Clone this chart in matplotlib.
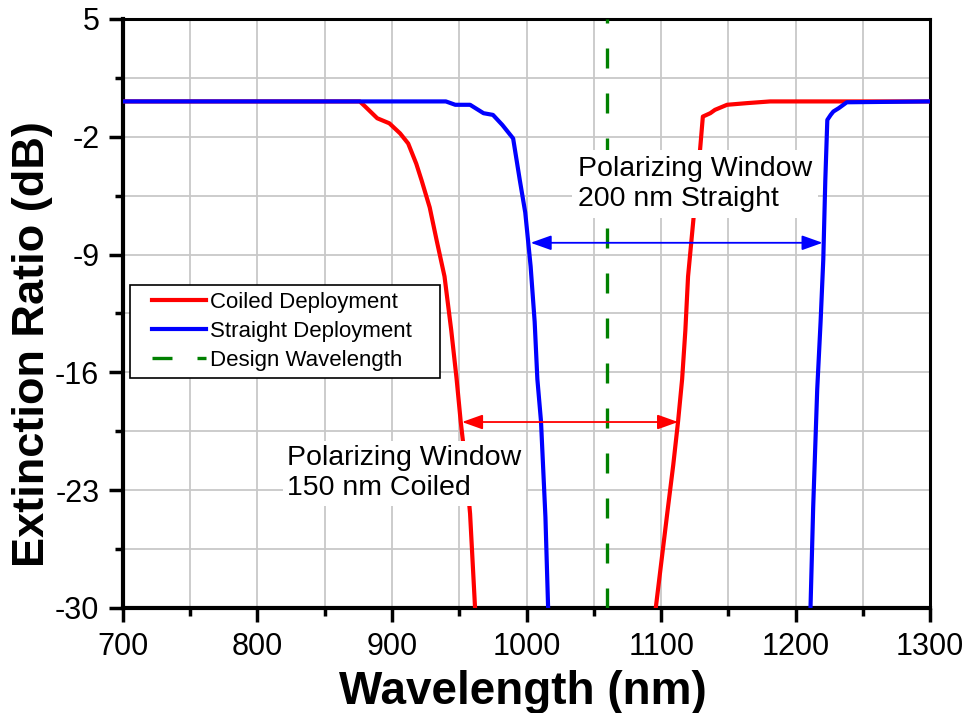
import matplotlib
matplotlib.use('Agg')
import matplotlib.pyplot as plt
from matplotlib.ticker import MultipleLocator, FixedLocator
from matplotlib.legend_handler import HandlerLine2D

plt.rcParams['font.family'] = ['Liberation Sans', 'DejaVu Sans']
plt.rcParams['axes.unicode_minus'] = False

# Coiled deployment (red)
coiled_wl = [700, 876, 880, 889, 898, 906, 912, 918, 922, 928, 933, 939, 944, 948,
             951, 955, 958, 961.7, 964,
             1094, 1096, 1104.5, 1109, 1112.6, 1115.6, 1118, 1120, 1124, 1127, 1129,
             1131, 1136.5, 1140, 1149, 1164, 1181, 1300]
coiled_er = [0.1, 0.1, -0.2, -0.9, -1.2, -1.8, -2.4, -3.6, -4.6, -6.2, -8.1, -10.3, -13.5, -16.4,
             -18.9, -21.7, -24.4, -30, -33,
             -33, -30, -24.4, -21.5, -18.9, -16.4, -13.5, -10.3, -6.9, -4.5, -2.7,
             -0.8, -0.6, -0.4, -0.1, 0.0, 0.1, 0.1]

# Straight deployment (blue)
straight_wl = [700, 940, 947, 958, 968, 975, 982, 990, 995, 999, 1003, 1006, 1008, 1010.7,
               1012.5, 1014, 1016, 1018,
               1209, 1211, 1213, 1216, 1218.5, 1220.5, 1222, 1223.5, 1226, 1228, 1232, 1238, 1300]
straight_er = [0.1, 0.1, -0.1, -0.1, -0.6, -0.7, -1.3, -2.1, -4.6, -6.5, -9.7, -13.0, -16.4, -18.9,
               -22.0, -24.6, -30, -33,
               -33, -30, -24, -17, -13, -9.3, -4.6, -1.0, -0.7, -0.5, -0.3, 0.05, 0.1]

design_wl = 1060

y_major = [5, -2, -9, -16, -23, -30]
y_minor = [1.5, -5.5, -12.5, -19.5, -26.5]

# polarizing windows: (start, end, level)
straight_window = (1003, 1220, -8.3)
coiled_window = (952, 1112.6, -18.95)

fig = plt.figure(figsize=(9.68, 7.13), dpi=100)
ax = fig.add_axes([0.127, 0.1473, 0.834, 0.8261])

ax.plot(coiled_wl, coiled_er, color='#ff0000', lw=3, label='Coiled Deployment', zorder=3)
ax.plot(straight_wl, straight_er, color='#0000ff', lw=3, label='Straight Deployment', zorder=4)
ax.axvline(design_wl, color='#008000', lw=2.4, dashes=(6, 7.5), label='Design Wavelength', zorder=3)

ax.set_xlim(700, 1300)
ax.set_ylim(-30, 5)
ax.xaxis.set_major_locator(MultipleLocator(100))
ax.xaxis.set_minor_locator(MultipleLocator(50))
ax.yaxis.set_major_locator(FixedLocator(y_major))
ax.yaxis.set_minor_locator(FixedLocator(y_minor))
ax.grid(True, which='both', color='#c8c8c8', lw=1.3, zorder=0)
ax.set_axisbelow(True)

ax.tick_params(which='major', direction='out', length=10, width=2.5, labelsize=22, pad=7)
ax.tick_params(which='minor', direction='out', length=5.5, width=2.5)
ax.tick_params(top=False, right=False, which='both')
for side in ['left', 'bottom']:
    ax.spines[side].set_linewidth(3)
for side in ['top', 'right']:
    ax.spines[side].set_linewidth(2.2)

ax.set_xlabel('Wavelength (nm)', fontsize=33, fontweight='bold')
ax.set_ylabel('Extinction Ratio (dB)', fontsize=32.5, fontweight='bold')
ax.xaxis.set_label_coords(0.495, -0.105)
ax.yaxis.set_label_coords(-0.087, 0.448)

# window arrows
arrowprops = dict(arrowstyle='<|-|>,head_length=0.7,head_width=0.25', lw=1.3,
                  shrinkA=0, shrinkB=0, mutation_scale=18)
ax.annotate('', xy=(straight_window[0], straight_window[2]),
            xytext=(straight_window[1], straight_window[2]),
            arrowprops=dict(arrowprops, color='#0000ff'), zorder=5)
ax.annotate('', xy=(coiled_window[0], coiled_window[2]),
            xytext=(coiled_window[1], coiled_window[2]),
            arrowprops=dict(arrowprops, color='#ff0000'), zorder=5)

ax.text(1038, -4.8, 'Polarizing Window\n200 nm Straight', fontsize=20.5, ha='left', va='center',
        bbox=dict(fc='white', ec='none', pad=4), zorder=6)
ax.text(822, -22.0, 'Polarizing Window\n150 nm Coiled', fontsize=20.5, ha='left', va='center',
        bbox=dict(fc='white', ec='none', pad=3), zorder=6)

leg = ax.legend(loc='upper left', bbox_to_anchor=(0.0087, 0.3, 0.384, 0.248), mode='expand',
                borderaxespad=0, fontsize=16, frameon=True, fancybox=False, framealpha=1,
                edgecolor='black', handlelength=3.1, handletextpad=0.22, labelspacing=0.36,
                borderpad=0.3, handler_map={plt.Line2D: HandlerLine2D(xpad=0.68)})
leg.get_frame().set_linewidth(1.2)
leg.set_zorder(7)

fig.savefig('out.png', dpi=100)
